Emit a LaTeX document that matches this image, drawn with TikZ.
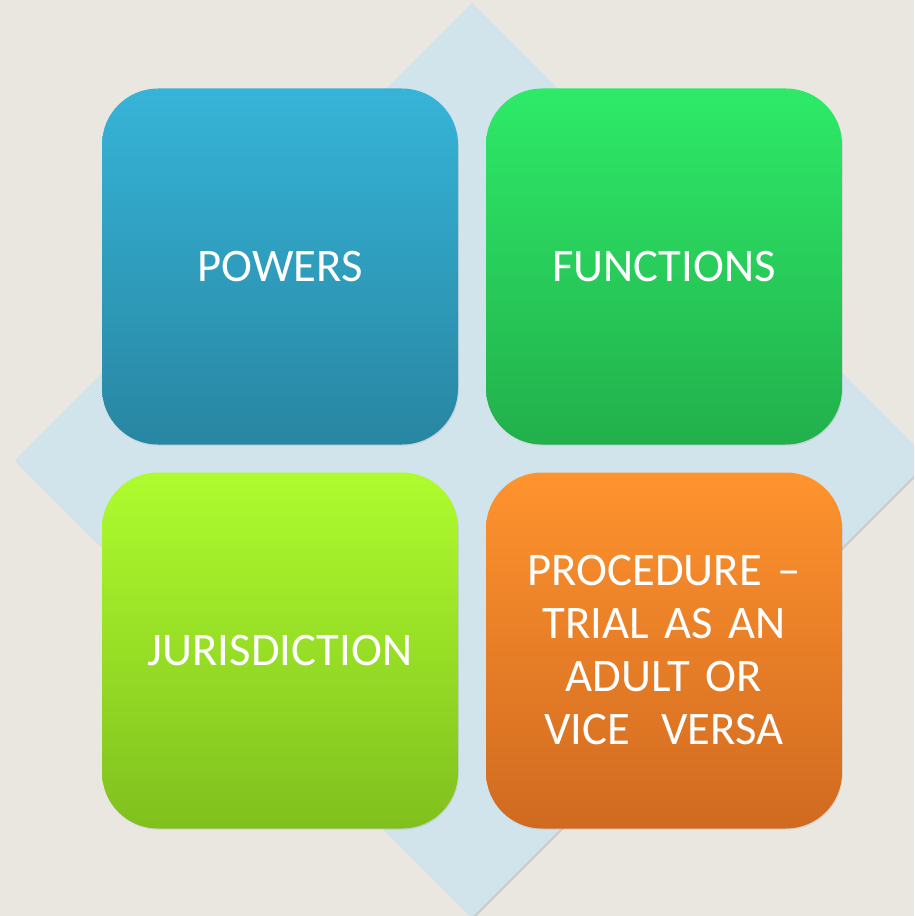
\documentclass[tikz,border=0pt]{standalone}
\usepackage{fontspec}
\setmainfont{Carlito}
\usetikzlibrary{shadows}

\definecolor{pagebg}{RGB}{234,231,225}
\definecolor{diamondbg}{RGB}{209,227,235}
\definecolor{powtop}{RGB}{54,180,216}
\definecolor{powbot}{RGB}{40,134,162}
\definecolor{funtop}{RGB}{46,234,104}
\definecolor{funbot}{RGB}{34,176,76}
\definecolor{jurtop}{RGB}{174,252,46}
\definecolor{jurbot}{RGB}{128,192,30}
\definecolor{protop}{RGB}{255,147,46}
\definecolor{probot}{RGB}{208,106,32}

\tikzset{every picture/.style={line width=0.75pt}}
\tikzset{
  tile/.style={rectangle, rounded corners=42pt, minimum width=267pt, minimum height=267pt,
    text width=230pt, align=center, text=white, inner sep=0pt,
    font=\fontsize{35}{39.75}\selectfont,
    drop shadow={shadow xshift=0.6pt, shadow yshift=-0.9pt, opacity=0.18}},
}

\begin{document}
\begin{tikzpicture}[x=0.75pt,y=0.75pt,yscale=-1,xscale=1]
		\useasboundingbox (0,0) rectangle (914,916);
		\clip (0,0) rectangle (914,916);
		\fill[pagebg] (0,0) rectangle (914,916);

		%Shape: Diamond behind the tiles
		\fill [diamondbg, drop shadow={shadow xshift=1.2pt, shadow yshift=-1.5pt, opacity=0.25}]
			(472,3) -- (929,460) -- (472,917) -- (15,460) -- cycle ;

		%Tiles
		\node [tile, top color=powtop, bottom color=powbot] (powers) at (280,266.5) {POWERS};
		\node [tile, top color=funtop, bottom color=funbot] (functions) at (664,266.5) {FUNCTIONS};
		\node [tile, top color=jurtop, bottom color=jurbot] (jurisdiction) at (280,650.5) {JURISDICTION};
		\node [tile, top color=protop, bottom color=probot] (procedure) at (664,650.5)
			{PROCEDURE --\\ TRIAL AS AN\\ ADULT OR\\ VICE\ \ VERSA};

\end{tikzpicture}
\end{document}
